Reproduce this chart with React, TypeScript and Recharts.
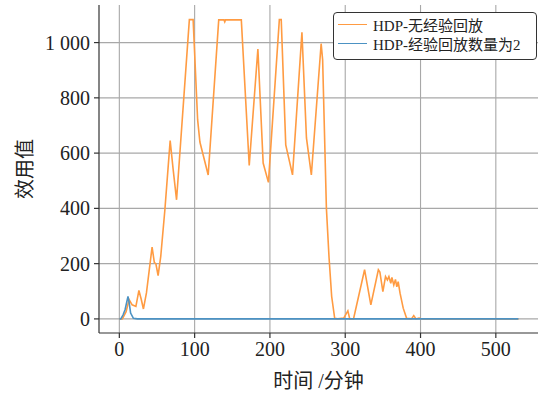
import React from 'react';
import { LineChart, Line, XAxis, YAxis, CartesianGrid } from 'recharts';

const SERIES_A_NAME = 'HDP-无经验回放';
const SERIES_B_NAME = 'HDP-经验回放数量为2';

const TIME_A = [0, 4, 9, 13, 17, 22, 26, 29, 32, 36, 43.5, 46.5, 48.5, 51.5, 55, 60.5, 67.5, 71.5, 76, 93, 98, 104, 107, 118, 132, 139, 140, 141, 162, 172.5, 184, 191, 198, 212.5, 215, 221, 230, 242.5, 248.5, 255, 268, 270, 272, 275, 278.5, 282, 286, 290, 298, 303.5, 306, 311, 325.7, 334, 344, 346, 350, 353.5, 356, 358, 360.5, 362, 364.5, 366.7, 368.5, 370.3, 372.8, 377, 381.5, 388, 391, 394, 398, 402, 530];
const VALUE_A = [0, 0, 26, 70, 51, 45, 103, 72, 36, 94, 260, 204, 200, 157, 226, 395, 645, 540, 431, 1083, 1083, 720, 640, 521, 1082, 1082, 1075, 1082, 1082, 555, 977, 564, 494, 1083, 1083, 630, 521, 1037, 655, 521, 996, 938, 721, 400, 222, 81, 2, 0, 3, 29, 0, 0, 178, 51, 178, 170, 99, 153, 141, 153, 129, 150, 123, 143, 116, 135, 93, 39, 2, 0, 12, 0, 3, 0, 0];

const TIME_B = [0, 2, 5, 7.6, 11.5, 13, 15, 18.7, 24, 530];
const VALUE_B = [0, 0, 15, 33, 81, 60, 21, 2, 0, 0];

const X_TICKS = [0, 100, 200, 300, 400, 500];
const Y_TICKS = [0, 200, 400, 600, 800, 1000];
const X_DOMAIN = [-27, 556];
const Y_DOMAIN = [-51, 1136];

const dataA = TIME_A.map((t, i) => ({ t, v: VALUE_A[i] }));
const dataB = TIME_B.map((t, i) => ({ t, v: VALUE_B[i] }));

const ORANGE = '#ff9b42';
const BLUE = '#4c92c3';
const FONT = "Liberation Serif, Noto Sans CJK SC, serif";
const AXIS = '#333333';

const fmtY = (v: number) => String(v).replace(/\B(?=(\d{3})+(?!\d))/g, ' ');

const LegendBox = () => (
  <div
    style={{
      position: 'absolute',
      left: 333,
      top: 12,
      width: 204,
      border: '1px solid #333',
      borderRadius: 4,
      background: '#fff',
      padding: '2px 4px 6px 4px',
      fontFamily: FONT,
      fontSize: 15,
      color: '#222',
      boxSizing: 'border-box',
    }}
  >
    {[
      { name: SERIES_A_NAME, color: ORANGE },
      { name: SERIES_B_NAME, color: BLUE },
    ].map((it) => (
      <div key={it.name} style={{ display: 'flex', alignItems: 'center', height: 19, whiteSpace: 'nowrap' }}>
        <span style={{ display: 'inline-block', width: 29, height: 0, borderTop: `1.5px solid ${it.color}`, marginRight: 6 }} />
        <span>{it.name}</span>
      </div>
    ))}
  </div>
);

const YLabel = (props: any) => {
  const vb = props.viewBox || {};
  const cy = (vb.y || 0) + (vb.height || 0) / 2;
  const cx = 25;
  return (
    <text
      x={cx}
      y={cy}
      transform={`rotate(-90, ${cx}, ${cy})`}
      textAnchor="middle"
      dominantBaseline="central"
      style={{ fontFamily: FONT, fontSize: 20 }}
      fill="#222"
    >
      效用值
    </text>
  );
};

const tickStyle = { fontFamily: FONT, fontSize: 20, fill: '#222' };

export default function App() {
  return (
    <div style={{ position: 'absolute', left: 0, top: 0, width: 538, height: 394, background: '#fff', fontFamily: FONT }}>
      <LineChart width={538} height={394} margin={{ top: 5, right: 0, left: 0, bottom: 0 }} style={{ fontFamily: FONT }}>
        <CartesianGrid stroke="#a8a8a8" strokeWidth={1.1} horizontalValues={Y_TICKS} verticalValues={X_TICKS} />
        <XAxis
          dataKey="t"
          type="number"
          domain={X_DOMAIN}
          ticks={X_TICKS}
          allowDataOverflow
          height={61}
          tickSize={5}
          tickMargin={4}
          stroke={AXIS}
          strokeWidth={1.2}
          tick={{ ...tickStyle, style: { fontFamily: FONT } }}
          label={{ value: '时间 /分钟', position: 'insideBottom', offset: 6, fontSize: 20, fill: '#222', style: { fontFamily: FONT } }}
        />
        <XAxis xAxisId="top" orientation="top" type="number" domain={X_DOMAIN} height={0} tick={false} tickLine={false} stroke={AXIS} strokeWidth={1.2} />
        <YAxis
          type="number"
          domain={Y_DOMAIN}
          ticks={Y_TICKS}
          allowDataOverflow
          width={99}
          tickSize={5}
          tickMargin={4}
          stroke={AXIS}
          strokeWidth={1.2}
          tickFormatter={fmtY}
          tick={{ ...tickStyle, style: { fontFamily: FONT } }}
          label={<YLabel />}
        />
        <Line data={dataA} dataKey="v" name={SERIES_A_NAME} type="linear" stroke={ORANGE} strokeWidth={1.6} dot={false} isAnimationActive={false} />
        <Line data={dataB} dataKey="v" name={SERIES_B_NAME} type="linear" stroke={BLUE} strokeWidth={1.6} dot={false} isAnimationActive={false} />
      </LineChart>
      <LegendBox />
    </div>
  );
}
